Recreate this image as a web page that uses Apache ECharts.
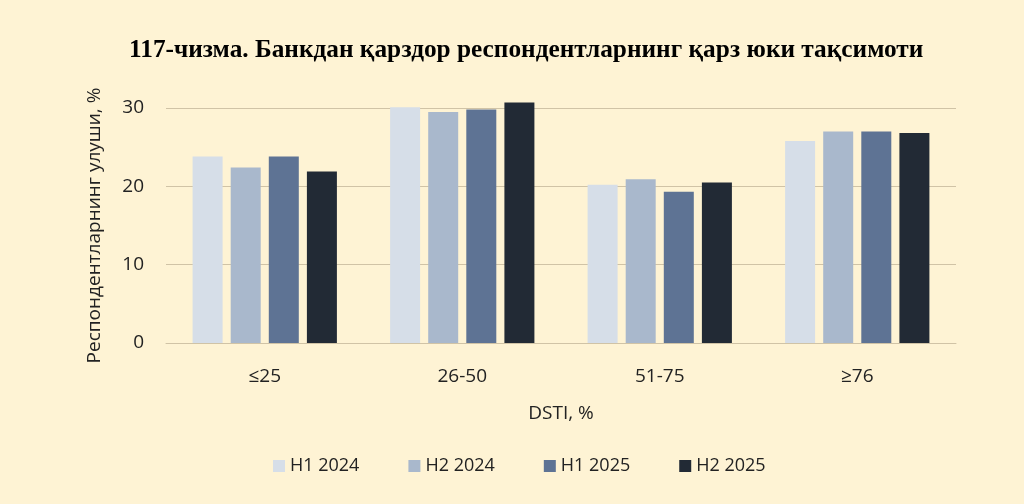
<!DOCTYPE html>
<html>
<head>
<meta charset="utf-8">
<script src="https://cdn.jsdelivr.net/npm/echarts@6/dist/echarts.min.js"></script>
<style>
  html, body { margin: 0; padding: 0; background: #FEF3D4; }
  #chart { width: 1024px; height: 504px; }
</style>
</head>
<body>
<div id="chart"></div>
<script>
// категориялар (DSTI, %)
const categories = ['≤25', '26-50', '51-75', '≥76'];
const seriesNames = ['H1 2024', 'H2 2024', 'H1 2025', 'H2 2025'];
// улушлар, %
const h1_2024 = [23.8, 30.1, 20.2, 25.8];
const h2_2024 = [22.4, 29.5, 20.9, 27.0];
const h1_2025 = [23.8, 29.8, 19.3, 27.0];
const h2_2025 = [21.9, 30.7, 20.5, 26.8];
const yTicks = [0, 10, 20, 30];

const colors = ['#D6DEE8', '#A9B8CC', '#5E7394', '#222A35'];
const font = 'Open Sans';

let myChart = echarts.init(document.getElementById('chart'))
myChart.setOption({
    backgroundColor: '#FEF3D4',
    color: colors,
    textStyle: { fontFamily: font },
    title: {
        text: '117-чизма. Банкдан қарздор респондентларнинг қарз юки тақсимоти',
        left: 124,
        top: 33,
        textStyle: {
            fontFamily: 'Liberation Serif',
            fontWeight: 'bold',
            fontSize: 25.3,
            color: '#000'
        }
    },
    grid: { left: 166, right: 68, top: 108, bottom: 161 },
    legend: {
        bottom: 24,
        left: 268,
        itemWidth: 12,
        itemHeight: 12,
        itemGap: 49,
        icon: 'rect',
        textStyle: { fontSize: 18, color: '#222', fontFamily: font },
        data: seriesNames
    },
    xAxis: {
        type: 'category',
        data: categories,
        name: 'DSTI, %',
        nameLocation: 'middle',
        nameGap: 61,
        nameTextStyle: { fontSize: 19, color: '#222' },
        axisTick: { show: false },
        axisLine: { lineStyle: { color: '#D0C3A6' } },
        axisLabel: { fontSize: 19, color: '#222', margin: 24 }
    },
    yAxis: {
        type: 'value',
        min: yTicks[0],
        max: yTicks[yTicks.length - 1],
        interval: 10,
        name: 'Респондентларнинг улуши, %',
        nameLocation: 'middle',
        nameGap: 62,
        nameTextStyle: { fontSize: 19, color: '#222' },
        axisLine: { show: false },
        axisTick: { show: false },
        axisLabel: { fontSize: 19, color: '#222', margin: 22 },
        splitLine: { lineStyle: { color: '#D0C3A6', width: 1 } }
    },
    series: [
        { name: seriesNames[0], type: 'bar', data: h1_2024, barWidth: 30, barGap: '27%', clip: false },
        { name: seriesNames[1], type: 'bar', data: h2_2024, barWidth: 30, barGap: '27%', clip: false },
        { name: seriesNames[2], type: 'bar', data: h1_2025, barWidth: 30, barGap: '27%', clip: false },
        { name: seriesNames[3], type: 'bar', data: h2_2025, barWidth: 30, barGap: '27%', clip: false }
    ]
})
</script>
</body>
</html>
